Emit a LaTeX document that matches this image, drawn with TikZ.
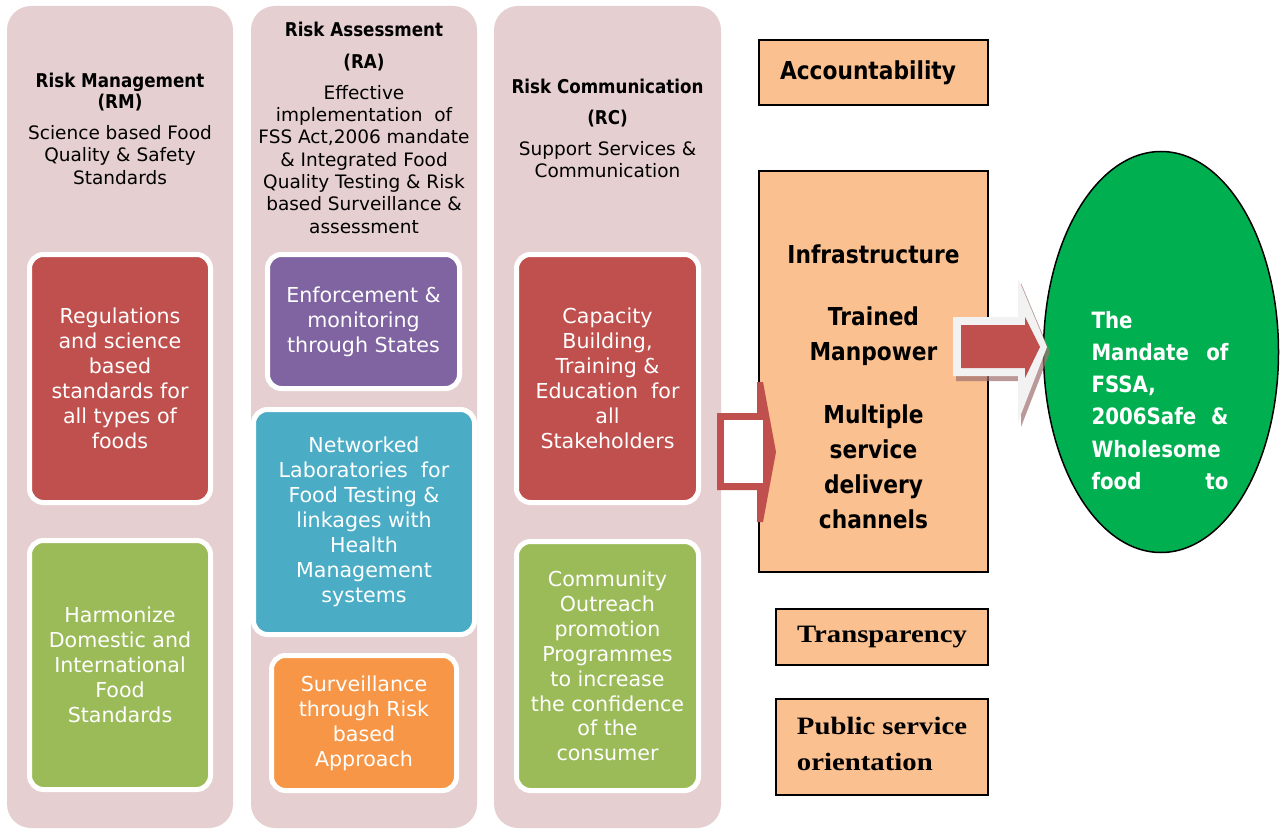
\documentclass[tikz,border=0pt]{standalone}
\usepackage{fontspec}
\setmainfont{DejaVu Sans}
\newfontfamily\condbold{DejaVu Sans}[FakeStretch=0.88]
\newfontfamily\wideserif{Liberation Serif}[FakeStretch=1.15]
\usetikzlibrary{shapes.geometric}

\definecolor{colbg}{HTML}{E6CFD0}
\definecolor{tred}{HTML}{C0504D}
\definecolor{tgreen}{HTML}{9BBB59}
\definecolor{tpurple}{HTML}{8064A2}
\definecolor{tteal}{HTML}{4BACC6}
\definecolor{torange}{HTML}{F79646}
\definecolor{peach}{HTML}{FAC090}
\definecolor{egreen}{HTML}{00B050}
\definecolor{arrowgrey}{HTML}{F2F2F2}
\definecolor{arrowshadow}{HTML}{A06E6E}

\begin{document}
\begin{tikzpicture}[x=1pt,y=-1pt,
  colbox/.style={fill=colbg, rounded corners=24pt, minimum width=226pt, minimum height=822pt, inner sep=0pt},
  tile/.style={draw=white, line width=5pt, rounded corners=14pt, text=white, align=center, inner sep=0pt,
    font=\fontsize{20.6}{24.9}\selectfont},
  hdtitle/.style={anchor=base, inner sep=0pt, font=\condbold\bfseries\fontsize{19}{22}\selectfont},
  hddesc/.style={align=center, inner sep=0pt, font=\fontsize{18.5}{22.3}\selectfont},
  peachbox/.style={draw=black, line width=2pt, fill=peach, inner sep=0pt},
  bigbold/.style={align=center, inner sep=0pt, font=\condbold\bfseries\fontsize{24.7}{35}\selectfont},
  serifbold/.style={font=\wideserif\bfseries\fontsize{25}{36}\selectfont},
]
\useasboundingbox (0,0) rectangle (1282,829);
\fill[white] (0,0) rectangle (1282,829);

% three pillars
\node[colbox] (rmcol) at (120,417) {};
\node[colbox] (racol) at (364,417) {};
\node[colbox, minimum width=227pt] (rccol) at (607.5,417) {};

% pillar headings
\node[hdtitle] (rmt) at (120,87.3) {Risk Management};
\node[hdtitle] (rma) at (120,108.3) {(RM)};
\node[hddesc] (rmd) at (120,155) {Science based Food\\Quality \& Safety\\Standards};

\node[hdtitle] (rat) at (364,36.7) {Risk Assessment};
\node[hdtitle] (raa) at (364,68.3) {(RA)};
\node[hddesc] (rad) at (364,159.3) {Effective\\implementation\ \ of\\FSS Act,2006 mandate\\\& Integrated Food\\Quality Testing \& Risk\\based Surveillance \&\\assessment};

\node[hdtitle] (rct) at (607.5,94) {Risk Communication};
\node[hdtitle] (rca) at (607.5,125) {(RC)};
\node[hddesc, font=\fontsize{18.5}{21.5}\selectfont] (rcd) at (607.5,159.6) {Support Services \&\\Communication};

% activity tiles
\node[tile, fill=tred, minimum width=181pt, minimum height=248pt] (regs) at (120,378.5)
  {Regulations\\and science\\based\\standards for\\all types of\\foods};
\node[tile, fill=tgreen, minimum width=181pt, minimum height=249pt] (harm) at (120,665)
  {Harmonize\\Domestic and\\International\\Food\\Standards};
\node[tile, fill=tpurple, minimum width=192pt, minimum height=134pt] (enf) at (363.5,321.5)
  {Enforcement \&\\monitoring\\through States};
\node[tile, fill=tteal, minimum width=221pt, minimum height=225pt] (labs) at (364,522)
  {Networked\\Laboratories\ \ for\\Food Testing \&\\linkages with\\Health\\Management\\systems};
\node[tile, fill=torange, minimum width=185pt, minimum height=135pt] (surv) at (364,723)
  {Surveillance\\through Risk\\based\\Approach};
\node[tile, fill=tred, minimum width=182pt, minimum height=248pt] (capb) at (607.5,378.5)
  {Capacity\\Building,\\Training \&\\Education\ \ for\\all\\Stakeholders};
\node[tile, fill=tgreen, minimum width=182pt, minimum height=249pt] (comm) at (607.5,666)
  {Community\\Outreach\\promotion\\Programmes\\to increase\\the confidence\\of the\\consumer};

% principle boxes
\node[peachbox, minimum width=229pt, minimum height=65pt, text width=187pt, inner xsep=21pt, align=left,
  font=\condbold\bfseries\fontsize{24.7}{30}\selectfont] (acc) at (873.5,72.5) {\mbox{Accountability}};
\node[peachbox, minimum width=229pt, minimum height=401pt] (infra) at (873.5,371.5) {};
\node[bigbold] (infratxt) at (873.5,386.4)
  {Infrastructure\\[27.5pt]Trained\\Manpower\\[27.5pt]Multiple\\service\\delivery\\channels};
\node[peachbox, serifbold, minimum width=212pt, minimum height=56pt] (transp) at (882,637) {Transparency};
\node[peachbox, minimum width=212pt, minimum height=96pt] (pub) at (882,747) {};
\node[serifbold, align=left, inner sep=0pt] (pubtxt) at (882,743.5) {Public service\\orientation};

% outcome
\node[ellipse, fill=egreen, draw=black, line width=1.5pt, minimum width=235pt, minimum height=401pt, inner sep=0pt]
  (mand) at (1161,352) {};
\node[text=white, text width=137pt, align=left, inner sep=0pt,
  font=\condbold\bfseries\fontsize{22.5}{32.2}\selectfont] (mandtxt) at (1160,400.4)
  {The\\Mandate\hfill of\\FSSA,\\2006Safe\hfill\&\\Wholesome\\food\hfill to};

% hollow block arrow into the capacity box
\fill[tred] (717,413) -- (757,413) -- (757,382) -- (763,382) -- (776,452) -- (763,522)
  -- (757,522) -- (757,490) -- (717,490) -- cycle;
\fill[white] (724,420) rectangle (763,483);

% raised block arrow towards the mandate
\fill[arrowshadow, opacity=0.7] (956,322) -- (1021,322) -- (1021,283) -- (1050,352) -- (1021,427)
  -- (1021,381) -- (956,381) -- cycle;
\fill[arrowgrey] (953,317) -- (1018,317) -- (1018,278) -- (1047,347) -- (1018,422)
  -- (1018,376) -- (953,376) -- cycle;
\fill[tred] (961,325) -- (1025,325) -- (1025,317) -- (1040,347) -- (1025,378)
  -- (1025,368) -- (961,368) -- cycle;
\end{tikzpicture}
\end{document}
